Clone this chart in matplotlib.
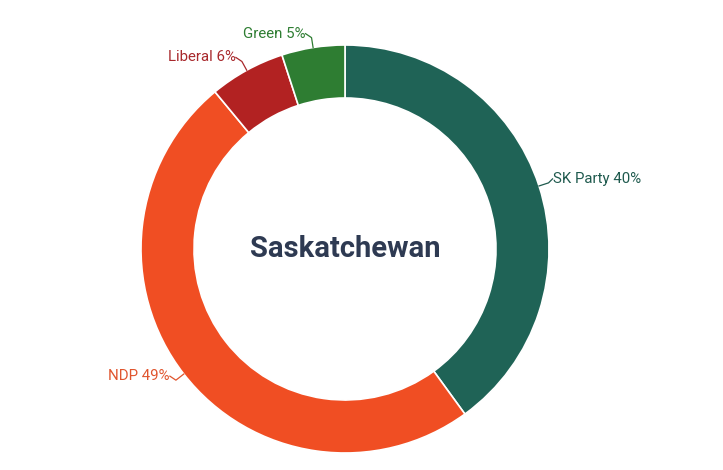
import numpy as np
import matplotlib.pyplot as plt

parties = ['SK Party', 'NDP', 'Liberal', 'Green']
shares = [40, 49, 6, 5]
colors = ['#1f6356', '#f04e23', '#b22222', '#2e7d32']
label_colors = ['#1f5a4e', '#e0552e', '#a8282c', '#2e7d32']
title = 'Saskatchewan'

font = ['Roboto', 'DejaVu Sans']

fig = plt.figure(figsize=(7.23, 4.70), dpi=100)
ax = fig.add_axes([0, 0, 1, 1])

cx, cy, R = 345, 221, 204
wedges, _ = ax.pie(shares, colors=colors, startangle=90, counterclock=False,
                   center=(cx, cy), radius=R, frame=True,
                   wedgeprops=dict(width=53, edgecolor='white', linewidth=1.2))
ax.set_xlim(0, 723)
ax.set_ylim(0, 470)
ax.set_aspect('equal')
ax.axis('off')

for w, name, val, lc in zip(wedges, parties, shares, label_colors):
    ang = np.deg2rad((w.theta1 + w.theta2) / 2)
    c, s = np.cos(ang), np.sin(ang)
    x0, y0 = cx + R * c, cy + R * s
    x1, y1 = cx + (R + 10) * c, cy + (R + 10) * s
    ha = 'left' if c > 0 else 'right'
    xt = x1 + (4 if c > 0 else -6)
    yt = y1 + 4
    ax.plot([x0, x1, xt], [y0, y1, yt], color=lc, lw=0.9)
    ax.text(xt, yt, f'{name} {val}%', ha=ha, va='center', color=lc,
            fontsize=10.8, family=font)

ax.text(cx, cy, title, ha='center', va='center', color='#2e3a52',
        fontsize=21, fontweight='bold', family=font)

fig.savefig('out.png', dpi=100)
